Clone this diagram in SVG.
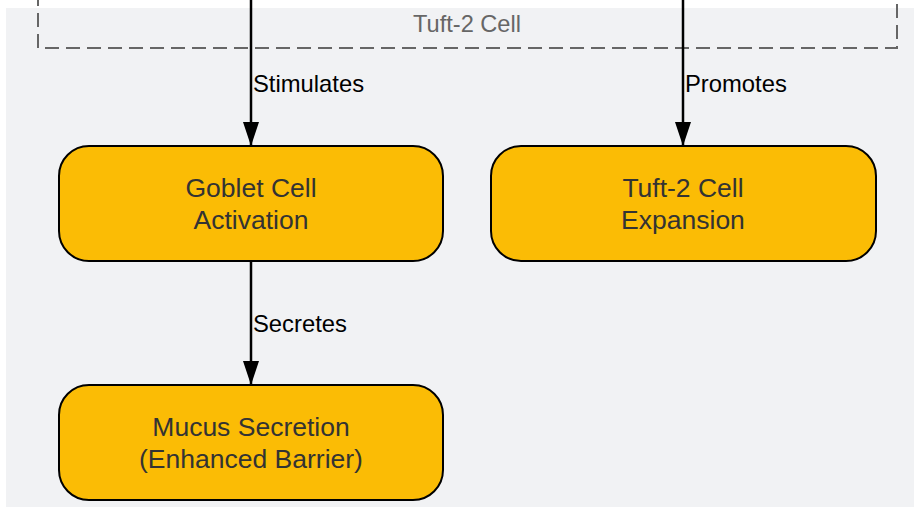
<svg xmlns="http://www.w3.org/2000/svg" width="918" height="507" viewBox="0 0 918 507">
<defs>
<style>
.node rect{fill:#fbbc05;stroke:#000;stroke-width:2}
.node text{font-family:"Liberation Sans",Arial,sans-serif;font-size:26.5px;fill:#333;text-anchor:middle}
.edge{stroke:#000;stroke-width:2.5;fill:none;marker-end:url(#arrh)}
.elabel{font-family:"Liberation Sans",Arial,sans-serif;font-size:23.8px;fill:#000}
</style>
<marker id="arrh" viewBox="0 0 24 16" refX="24" refY="8" markerWidth="24" markerHeight="16" markerUnits="userSpaceOnUse" orient="auto">
<path d="M0,0 L24,8 L0,16 z" fill="#000"/>
</marker>
</defs>
<rect x="6" y="8" width="908" height="499" fill="#f1f2f4"/>
<g id="cluster-tuft2">
<rect x="38" y="-40" width="859" height="88" fill="none" stroke="#666" stroke-width="2" stroke-dasharray="14,7"/>
<text x="467" y="32" font-family="'Liberation Sans',Arial,sans-serif" font-size="23.6" fill="#666" text-anchor="middle">Tuft-2 Cell</text>
</g>
<g id="connectors">
<path class="edge" d="M251,0 V146"/>
<path class="edge" d="M683,0 V146"/>
<path class="edge" d="M251,261 V385"/>
<text class="elabel" x="253" y="92">Stimulates</text>
<text class="elabel" x="685" y="92">Promotes</text>
<text class="elabel" x="253" y="332">Secretes</text>
</g>
<g id="goblet" class="node">
<rect x="59" y="146" width="384" height="115" rx="30"/>
<text x="251" y="197">Goblet Cell</text>
<text x="251" y="229">Activation</text>
</g>
<g id="tuft2-expansion" class="node">
<rect x="491" y="146" width="385" height="115" rx="30"/>
<text x="683" y="197">Tuft-2 Cell</text>
<text x="683" y="229">Expansion</text>
</g>
<g id="mucus" class="node">
<rect x="59" y="385" width="384" height="115" rx="30"/>
<text x="251" y="436">Mucus Secretion</text>
<text x="251" y="468">(Enhanced Barrier)</text>
</g>
</svg>
